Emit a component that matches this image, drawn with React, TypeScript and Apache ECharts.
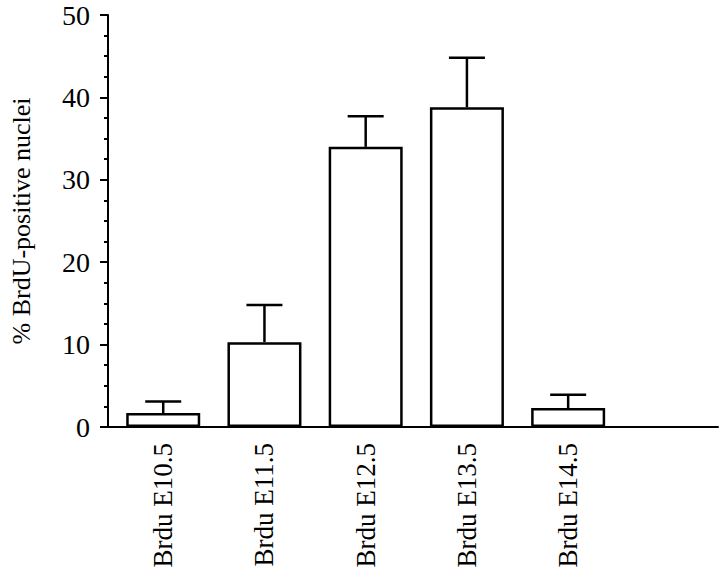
import React, { useEffect, useRef } from "react";
import * as echarts from "echarts";

const categories = ["Brdu E10.5", "Brdu E11.5", "Brdu E12.5", "Brdu E13.5", "Brdu E14.5", ""];
const means = [1.7, 10.3, 34.0, 38.8, 2.3];
const upperErr = [3.1, 14.8, 37.7, 44.8, 3.9];
const yTicks = [0, 10, 20, 30, 40, 50];

const FONT = "'Liberation Serif', 'Times New Roman', serif";

export default function App() {
  const ref = useRef<HTMLDivElement>(null);
  useEffect(() => {
    if (!ref.current) return;
    const chart = echarts.init(ref.current, undefined, { renderer: "svg" });
    const top = 15;
    const bottom = 150;
    const errData = means.map((m, i) => [i, m, upperErr[i]]);
    chart.setOption({
      animation: false,
      backgroundColor: "#ffffff",
      grid: [
        { left: 98, right: 2, top, bottom, containLabel: false },
        { left: 112.6, right: 0, top, bottom, containLabel: false },
      ],
      xAxis: [
        {
          gridIndex: 0,
          type: "value",
          min: 0,
          max: 1,
          axisLine: { show: true, lineStyle: { color: "#000", width: 2 } },
          axisTick: { show: false },
          axisLabel: { show: false },
          splitLine: { show: false },
        },
        {
          gridIndex: 1,
          type: "category",
          data: categories,
          axisLine: { show: false },
          axisTick: { show: false },
          axisLabel: {
            rotate: 90,
            margin: 16,
            color: "#000",
            fontFamily: FONT,
            fontSize: 27,
            interval: 0,
          },
        },
      ],
      yAxis: [
        {
          gridIndex: 0,
          type: "value",
          min: 0,
          max: yTicks[yTicks.length - 1],
          interval: 10,
          name: "% BrdU-positive nuclei",
          nameLocation: "middle",
          nameGap: 74,
          nameRotate: 90,
          nameTextStyle: { color: "#000", fontFamily: FONT, fontSize: 26 },
          axisLine: { show: true, lineStyle: { color: "#000", width: 2 } },
          axisTick: { show: true, length: 8, lineStyle: { color: "#000", width: 2 } },
          minorTick: { show: true, splitNumber: 4, length: 4, lineStyle: { color: "#000", width: 2 } },
          axisLabel: { color: "#000", fontFamily: FONT, fontSize: 28, margin: 18 },
          splitLine: { show: false },
        },
        {
          gridIndex: 1,
          type: "value",
          min: 0,
          max: yTicks[yTicks.length - 1],
          show: false,
        },
      ],
      series: [
        {
          type: "bar",
          xAxisIndex: 1,
          yAxisIndex: 1,
          data: means,
          barWidth: 74,
          itemStyle: { color: "#fff", borderColor: "#000", borderWidth: 2.5 },
          z: 3,
        },
        {
          type: "custom",
          xAxisIndex: 1,
          yAxisIndex: 1,
          data: errData,
          z: 2,
          renderItem: (params: any, api: any) => {
            const x = api.value(0);
            const base = api.coord([x, api.value(1)]);
            const hi = api.coord([x, api.value(2)]);
            const half = 18;
            const style = { stroke: "#000", lineWidth: 2.5, fill: "none" };
            return {
              type: "group",
              children: [
                { type: "line", shape: { x1: base[0], y1: base[1], x2: hi[0], y2: hi[1] }, style },
                { type: "line", shape: { x1: hi[0] - half, y1: hi[1], x2: hi[0] + half, y2: hi[1] }, style },
              ],
            };
          },
        },
      ],
    });
    return () => chart.dispose();
  }, []);
  return (
    <div
      ref={ref}
      style={{ position: "absolute", left: 0, top: 0, width: 720, height: 577, background: "#fff" }}
    />
  );
}
